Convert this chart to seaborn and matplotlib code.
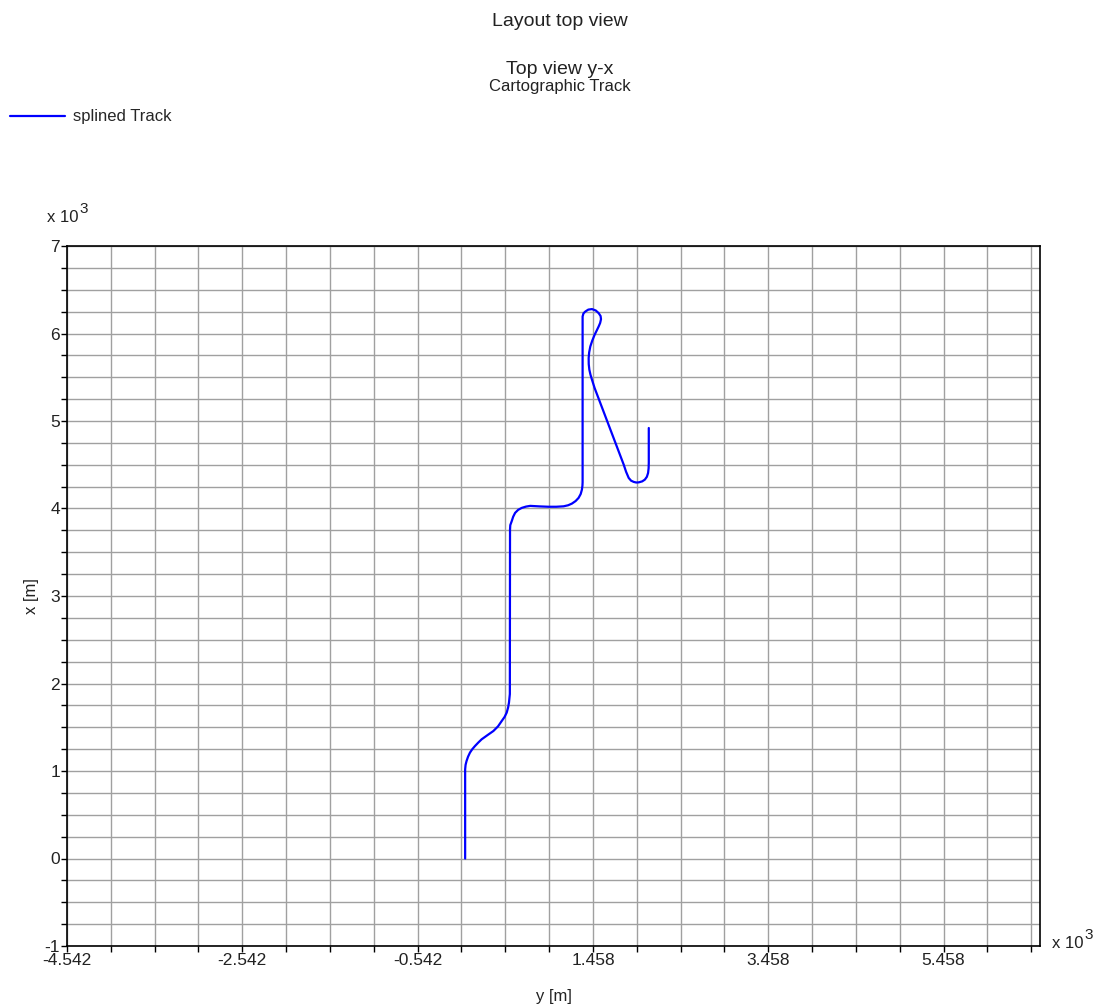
import numpy as np
import pandas as pd
import matplotlib
matplotlib.use("Agg")
import matplotlib.pyplot as plt
import seaborn as sns

# Track coordinates in metres (horizontal axis "y", vertical axis "x")
track_y = [0, 0, 5, 16, 33, 55, 82, 112, 150, 188, 255, 322, 375, 417, 450, 474, 490,
           500, 510, 512, 515, 531, 548, 570, 605, 646, 695, 742, 850,
           951, 1040, 1123, 1175, 1218, 1260, 1294, 1318, 1332, 1338, 1340, 1340, 1350,
           1371, 1405, 1447, 1490, 1523, 1545, 1550, 1540, 1523,
           1500, 1477, 1450, 1428, 1415, 1409, 1410, 1417, 1430, 1447, 1477, 1809, 1836,
           1866, 1893, 1923, 1952, 1981, 2020, 2050, 2073, 2087, 2093, 2095, 2095]
track_x = [0, 1020, 1070, 1114, 1163, 1210, 1250, 1285, 1325, 1362, 1410, 1457, 1510,
           1571, 1618, 1667, 1725, 1781, 1880, 3759, 3810, 3854, 3906, 3950, 3985, 4007,
           4022, 4030, 4024, 4020, 4020, 4025, 4037, 4056, 4085, 4121, 4165, 4215, 4260,
           4300, 6194, 6230, 6251, 6273, 6279, 6263, 6233, 6200, 6164, 6120, 6080,
           6032, 5985, 5918, 5852, 5785, 5719, 5650, 5586, 5528, 5472, 5377, 4501, 4420,
           4349, 4318, 4304, 4297, 4299, 4310, 4330, 4362, 4406, 4460, 4521, 4920]

xtick_vals = [-4542, -2542, -542, 1458, 3458, 5458]
xtick_labels = ["-4.542", "-2.542", "-0.542", "1.458", "3.458", "5.458"]
ytick_vals = [-1000, 0, 1000, 2000, 3000, 4000, 5000, 6000, 7000]
ytick_labels = ["-1", "0", "1", "2", "3", "4", "5", "6", "7"]

df = pd.DataFrame({"y": track_y, "x": track_x, "series": "splined Track"})

sns.set_style("white")
plt.rcParams['font.family'] = ['Liberation Sans', 'DejaVu Sans']

TXT = "#222222"

fig = plt.figure(figsize=(10.99, 10.06), dpi=100)
ax = fig.add_axes([67/1099, 1 - 946/1006, (1040 - 67)/1099, (946 - 246)/1006])

sns.lineplot(data=df, x="y", y="x", hue="series", palette=["#0000ff"],
             sort=False, estimator=None, linewidth=1.6, ax=ax, legend=True)

ax.set_xlim(-4542, 6558)
ax.set_ylim(-1000, 7000)

ax.set_xticks(xtick_vals)
ax.set_xticklabels(xtick_labels)
ax.set_xticks(np.arange(-4542, 6558, 500), minor=True)
ax.set_yticks(ytick_vals)
ax.set_yticklabels(ytick_labels)
ax.set_yticks(np.arange(-1000, 7001, 250), minor=True)

ax.tick_params(axis="both", which="both", direction="out", length=4, width=1,
               color="black", labelsize=12.5, labelcolor=TXT, pad=1,
               bottom=True, left=True)
ax.grid(True, which="both", color="#a0a0a0", linewidth=1)
ax.set_axisbelow(True)
for s in ax.spines.values():
    s.set_color("black")
    s.set_linewidth(1.2)

ax.set_xlabel("y [m]", fontsize=12, color=TXT, labelpad=15)
ax.set_ylabel("x [m]", fontsize=12, color=TXT, labelpad=4)

# "x 10^3" scale markers
fig.text(47/1099, 1 - 218/1006, "x 10", fontsize=12, color=TXT, ha="left", va="center")
fig.text(79/1099, 1 - 209/1006, "3", fontsize=11, color=TXT, ha="left", va="center")
fig.text(1052/1099, 1 - 944/1006, "x 10", fontsize=12, color=TXT, ha="left", va="center")
fig.text(1084/1099, 1 - 935/1006, "3", fontsize=11, color=TXT, ha="left", va="center")

fig.text(560/1099, 1 - 22/1006, "Layout top view", fontsize=14, color=TXT,
         ha="center", va="center")
fig.text(560/1099, 1 - 69/1006, "Top view y-x", fontsize=14, color=TXT,
         ha="center", va="center")
fig.text(560/1099, 1 - 87/1006, "Cartographic Track", fontsize=12, color=TXT,
         ha="center", va="center")

leg = ax.legend(loc="center left", bbox_to_anchor=(10/1099, 1 - 117/1006),
                bbox_transform=fig.transFigure, frameon=False, fontsize=12,
                handlelength=3.3, handletextpad=0.5, borderaxespad=0, borderpad=0)
leg.set_title(None)

fig.savefig("out.png", dpi=100, facecolor="white")
